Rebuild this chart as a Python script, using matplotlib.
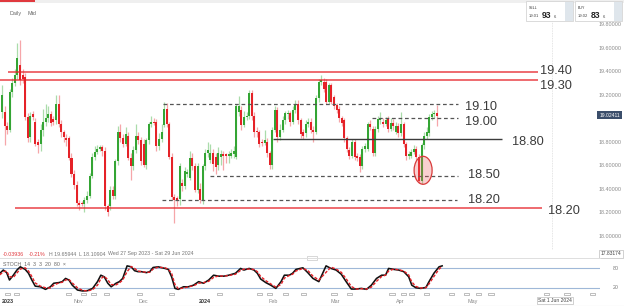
import matplotlib
matplotlib.use("Agg")
import matplotlib.pyplot as plt
from matplotlib.patches import Ellipse, Rectangle

# ---------------- data ----------------
opens = [19.05, 19.05, 18.93, 18.90, 19.22, 19.30, 19.37, 19.45, 19.37, 19.35,
         19.01, 18.84, 19.03, 18.97, 18.80, 18.78, 18.90, 18.97, 19.00, 19.03,
         18.99, 18.98, 19.12, 18.95, 18.88, 18.83, 18.83, 18.66, 18.52, 18.43,
         18.28, 18.28, 18.27, 18.30, 18.34, 18.51, 18.67, 18.71, 18.74, 18.75,
         18.72, 18.25, 18.25, 18.39, 18.34, 18.63, 18.88, 18.83,
         18.78, 18.85, 18.66, 18.59, 18.73, 18.85, 18.81, 18.78, 18.60, 18.81,
         18.95, 18.97, 18.97, 18.76, 18.82, 18.94, 19.08, 18.95, 18.67, 18.33,
         18.32, 18.31, 18.45, 18.42, 18.52, 18.49, 18.66, 18.59, 18.39, 18.40,
         18.30, 18.59, 18.70, 18.64, 18.70, 18.67, 18.60, 18.67, 18.69, 18.69,
         18.68, 18.68, 18.69, 18.67, 19.05, 19.07, 18.94, 19.01, 19.02, 19.21,
         19.02, 18.89, 18.88, 18.80, 18.79, 18.80, 18.70, 18.60, 18.90, 19.07,
         18.84, 18.90, 18.98, 19.03, 19.04, 18.97, 19.07, 19.12, 18.98, 18.88,
         18.87, 18.95, 18.97, 18.90, 18.88, 19.17, 19.31, 19.31, 19.31, 19.14,
         19.28, 19.18, 19.11, 19.08, 19.00, 18.98, 18.83, 18.73, 18.68, 18.80,
         18.68, 18.67, 18.59, 18.74, 18.74, 18.95, 18.91, 18.70, 18.91, 18.98,
         18.97, 18.95,
         18.99, 18.91, 18.96, 18.88, 18.93, 18.87, 18.95, 18.78, 18.68, 18.68,
         18.71, 18.74, 18.67, 18.46, 18.77, 18.85, 18.87, 19.01, 19.03, 19.04]
highs = [19.28, 19.10, 18.97, 19.25, 19.34, 19.42, 19.64, 19.66, 19.42, 19.38,
         19.04, 19.05, 19.06, 19.00, 18.82, 18.95, 19.08, 19.12, 19.10, 19.06,
         19.02, 19.20, 19.20, 18.98, 18.90, 18.86, 18.85, 18.70, 18.56, 18.46,
         18.30, 18.29, 18.33, 18.38, 18.53, 18.70, 18.76, 18.77, 18.77, 18.77,
         18.75, 18.27, 18.42, 18.42, 18.65, 18.93, 18.95, 18.86,
         18.92, 18.88, 18.70, 18.76, 18.95, 18.88, 18.84, 18.82, 18.83, 18.97,
         19.02, 19.00, 18.99, 18.87, 18.95, 19.14, 19.13, 18.97, 18.70, 18.35,
         18.34, 18.62, 18.48, 18.58, 18.57, 18.72, 18.70, 18.62, 18.62, 18.45,
         18.61, 18.74, 18.80, 18.78, 18.74, 18.70, 18.75, 18.73, 18.72, 18.70,
         18.72, 18.74, 18.76, 19.12, 19.19, 19.10, 19.06, 19.05, 19.24, 19.24,
         19.05, 18.92, 18.90, 18.82, 18.90, 18.83, 18.72, 18.92, 19.10, 19.09,
         18.95, 19.02, 19.06, 19.07, 19.06, 19.10, 19.15, 19.15, 19.00, 18.91,
         18.98, 19.00, 19.00, 18.93, 19.20, 19.33, 19.37, 19.34, 19.33, 19.30,
         19.30, 19.20, 19.13, 19.10, 19.02, 19.00, 18.85, 18.75, 18.82, 18.82,
         18.70, 18.69, 18.76, 18.79, 18.97, 18.98, 18.93, 18.93, 19.02, 19.05,
         19.00, 19.01,
         19.02, 19.00, 18.99, 18.97, 18.96, 19.05, 18.97, 18.80, 18.72, 18.74,
         18.77, 18.76, 18.69, 18.79, 18.88, 18.92, 19.03, 19.06, 19.07, 19.11]
lows = [19.00, 18.77, 18.86, 18.88, 19.18, 19.27, 19.33, 19.28, 19.30, 18.98,
        18.80, 18.80, 18.98, 18.76, 18.70, 18.72, 18.85, 18.93, 18.97, 18.93,
        18.94, 18.95, 18.92, 18.84, 18.80, 18.76, 18.64, 18.50, 18.40, 18.25,
        18.22, 18.25, 18.20, 18.28, 18.32, 18.49, 18.64, 18.69, 18.72, 18.68,
        18.22, 18.17, 18.22, 18.31, 18.31, 18.60, 18.80, 18.75,
        18.76, 18.64, 18.47, 18.56, 18.70, 18.78, 18.60, 18.58, 18.57, 18.78,
        18.92, 18.94, 18.72, 18.73, 18.80, 18.92, 18.92, 18.65, 18.30, 18.11,
        18.25, 18.26, 18.38, 18.40, 18.50, 18.47, 18.56, 18.37, 18.36, 18.28,
        18.27, 18.56, 18.67, 18.62, 18.55, 18.52, 18.56, 18.60, 18.56, 18.62,
        18.62, 18.66, 18.66, 18.65, 19.02, 18.90, 18.92, 18.98, 18.99, 18.98,
        18.84, 18.84, 18.75, 18.76, 18.77, 18.67, 18.57, 18.57, 18.88, 18.80,
        18.81, 18.88, 18.95, 18.99, 18.93, 18.95, 19.04, 18.95, 18.83, 18.82,
        18.84, 18.92, 18.87, 18.80, 18.86, 19.14, 19.28, 19.22, 19.12, 19.12,
        19.12, 19.08, 19.04, 18.97, 18.93, 18.80, 18.71, 18.65, 18.66, 18.64,
        18.63, 18.54, 18.57, 18.71, 18.72, 18.90, 18.68, 18.68, 18.88, 18.95,
        18.92, 18.93,
        18.88, 18.89, 18.90, 18.86, 18.84, 18.85, 18.75, 18.64, 18.65, 18.66,
        18.69, 18.64, 18.45, 18.44, 18.74, 18.82, 18.85, 18.98, 19.00, 18.93]
closes = [19.20, 18.93, 18.90, 19.22, 19.30, 19.37, 19.51, 19.32, 19.33, 19.01,
          18.83, 19.02, 19.01, 18.78, 18.77, 18.90, 18.97, 19.00, 19.03, 18.96,
          18.97, 19.12, 18.95, 18.88, 18.84, 18.81, 18.66, 18.52, 18.43, 18.28,
          18.26, 18.27, 18.30, 18.34, 18.51, 18.67, 18.71, 18.74, 18.75, 18.72,
          18.25, 18.20, 18.39, 18.34, 18.63, 18.88, 18.83, 18.78,
          18.86, 18.66, 18.59, 18.73, 18.85, 18.81, 18.63, 18.60, 18.81, 18.95,
          18.97, 18.96, 18.76, 18.82, 18.88, 19.08, 18.95, 18.67, 18.33, 18.30,
          18.29, 18.59, 18.42, 18.55, 18.54, 18.66, 18.59, 18.39, 18.59, 18.30,
          18.59, 18.70, 18.73, 18.70, 18.61, 18.58, 18.70, 18.69, 18.68, 18.68,
          18.69, 18.70, 18.72, 19.10, 19.10, 18.94, 19.01, 19.02, 19.21, 19.02,
          18.88, 18.88, 18.78, 18.79, 18.81, 18.70, 18.60, 18.90, 19.07, 18.84,
          18.90, 18.98, 19.04, 19.04, 18.97, 19.07, 19.12, 18.98, 18.86, 18.85,
          18.95, 18.97, 18.90, 18.88, 19.17, 19.31, 19.32, 19.25, 19.14, 19.28,
          19.14, 19.10, 19.07, 19.00, 18.96, 18.83, 18.74, 18.68, 18.80, 18.67,
          18.66, 18.59, 18.74, 18.76, 18.95, 18.92, 18.70, 18.91, 18.99, 18.99,
          18.95, 18.98,
          18.91, 18.96, 18.93, 18.93, 18.87, 18.95, 18.78, 18.68, 18.69, 18.71,
          18.74, 18.67, 18.46, 18.77, 18.85, 18.88, 19.01, 19.03, 19.04, 19.02]

# Drawn support / resistance levels and their captions
level_prices = [19.39, 19.32, 19.12, 19.00, 18.82, 18.51, 18.30, 18.23]
level_labels = ["19.40", "19.30", "19.10", "19.00", "18.80", "18.50", "18.20", "18.20"]

# Stochastic (14, 3, 3) readings: bar position, %K, %D
stoch_pos = [-0.8, 0.5, 1.8, 2.9, 4.4, 5.8, 7.1, 9.0, 10.3, 11.6,
             12.9, 14.9, 16.9, 18.8, 20.1, 22.1, 23.4, 24.7, 26.0, 27.3,
             29.3, 31.3, 33.2, 35.2, 37.1, 38.4, 39.7, 41.1, 42.4, 44.3,
             45.6, 46.9, 48.6, 50.2, 51.5, 52.8, 54.1, 56.1, 57.4, 58.7,
             60.7, 63.3, 64.6, 65.9, 67.2, 68.5, 70.5, 72.4, 74.4, 76.4,
             78.3, 80.3, 82.2, 84.2, 86.2, 88.1, 90.7, 92.7, 94.0, 96.0,
             97.9, 99.2, 100.5, 102.5, 104.4, 106.4, 108.4, 109.7, 111.6, 112.9,
             114.2, 116.9, 118.8, 120.8, 123.1, 125.9, 127.8, 129.8, 131.8, 133.7,
             135.7, 137.6, 139.6, 141.6, 143.5, 145.5, 147.5, 149.0, 150.2, 152.2,
             154.1, 156.1, 158.0, 159.2, 160.8, 162.7, 164.7, 165.9, 167.8, 169.8,
             171.0]
stoch_k = [65, 75, 67, 44, 59, 75, 85, 77, 65, 44,
           25, 23, 15, 23, 34, 36, 39, 49, 44, 28,
           13, 10, 11, 18, 39, 59, 54, 34, 23, 34,
           39, 49, 88, 85, 73, 70, 70, 67, 70, 83,
           85, 80, 77, 54, 18, 15, 23, 23, 28, 39,
           34, 44, 59, 56, 56, 59, 65, 80, 75, 80,
           75, 65, 47, 36, 28, 18, 39, 59, 59, 65,
           77, 82, 67, 49, 39, 88, 80, 75, 62, 39,
           16, 16, 18, 15, 28, 49, 59, 59, 80, 77,
           75, 70, 54, 28, 20, 18, 21, 39, 65, 85,
           88]
stoch_d = [60, 70, 72, 55, 52, 66, 78, 82, 72, 55,
           35, 25, 20, 19, 28, 35, 37, 44, 46, 35,
           20, 12, 10, 14, 28, 48, 56, 45, 30, 29,
           35, 44, 70, 86, 80, 72, 70, 68, 68, 78,
           84, 82, 78, 65, 30, 17, 19, 23, 26, 34,
           36, 40, 52, 57, 56, 58, 62, 74, 78, 78,
           77, 70, 55, 42, 32, 22, 30, 50, 58, 62,
           72, 80, 74, 56, 44, 68, 84, 78, 68, 48,
           24, 16, 17, 16, 22, 40, 55, 59, 72, 78,
           76, 72, 60, 38, 24, 19, 20, 32, 55, 78,
           86]

month_labels = ["2023", "Nov", "Dec", "2024", "Feb", "Mar", "Apr", "May"]
month_pos = [2.3, 29.5, 54.8, 78.9, 105.3, 129.4, 154.6, 183.0]

price_ticks = [19.8, 19.6, 19.4, 19.2, 18.8, 18.6, 18.4, 18.2, 18.0]
last_price = 19.02411
circled_bar = 163
event_pos = [2.0, 5.5, 26.0, 31.5, 35.5, 40.5, 53.5, 66.0, 84.5, 100.0,
             104.0, 110.0, 117.0, 129.0, 135.0, 151.5, 156.0, 159.0, 165.0, 174.5,
             180.5, 185.0, 190.0, 211.5, 219.5, 229.5]

# ---------------- layout helpers ----------------
W, H = 624, 306
BAR_PX = 2.574
X0_PX = 2.0


def fx(px):
    return px / W


def fy(py):
    return 1 - py / H


def bx(px):
    return (px - X0_PX) / BAR_PX


GREEN = "#34a534"
RED = "#e52228"
GREEN_W = "#aadcaa"
RED_W = "#f6a6a9"
TXT = "#3b3b3b"
GREY = "#8a8a8a"
FONT = ["Liberation Sans", "DejaVu Sans"]
plt.rcParams["font.family"] = FONT

fig = plt.figure(figsize=(W / 100, H / 100), dpi=100)
fig.patch.set_facecolor("white")

# ---------------- price panel ----------------
ax = fig.add_axes([0, fy(250), fx(596), (250 - 5) / H])
ax.set_xlim(bx(0), bx(596))
ax.set_ylim(19.8 - (250 - 24) * 0.00851, 19.8 + (24 - 5) * 0.00851)
for s in ax.spines.values():
    s.set_visible(False)
ax.yaxis.tick_right()
ax.set_yticks(price_ticks)
ax.set_yticklabels([f"{p:.5f}" for p in price_ticks], fontsize=3.9, color=GREY)
ax.tick_params(axis="y", length=0, pad=2)
ax.set_xticks([])

# crosshair (vertical)
ax.axvline(bx(552), color="#dcdcdc", lw=0.6, ls=(0, (1, 1)))

n = len(closes)
for i in range(n):
    o, h, l, c = opens[i], highs[i], lows[i], closes[i]
    up = c >= o
    ax.vlines(i, l, h, color=GREEN_W if up else RED_W, lw=0.9, zorder=2)
    bot = min(o, c)
    hgt = max(abs(c - o), 0.007)
    ax.bar(i, hgt, bottom=bot, width=0.78, color=GREEN if up else RED,
           linewidth=0, zorder=3)

# levels: first/last pixel column, colour, dash, width, caption position
level_style = [
    (8, 538, RED, "-", 1.1, 540, 71),
    (0, 538, RED, "-", 1.1, 540, 86),
    (163, 458, "#555555", (0, (3, 2.2)), 0.9, 465, 107),
    (372, 458, "#555555", (0, (3, 2.2)), 0.9, 465, 122),
    (273, 502, "#3c3c3c", "-", 1.0, 512, 142),
    (210, 458, "#555555", (0, (3, 2.2)), 0.9, 468, 175),
    (162, 457, "#555555", (0, (3, 2.2)), 0.9, 468, 200),
    (15, 542, RED, "-", 1.1, 548, 211),
]
for price, lab, (x0, x1, col, ls, lw, tx, ty) in zip(level_prices, level_labels, level_style):
    ax.hlines(price, bx(x0), bx(x1), colors=col, linestyles=ls, lw=lw, zorder=4,
              alpha=0.85 if col == RED else 1.0)
    fig.text(fx(tx), fy(ty), lab, fontsize=9.2, color=TXT, va="center", ha="left")

# circled low
ell = Ellipse((circled_bar + 0.6, 18.555), width=18 / BAR_PX, height=0.238,
              facecolor=(0.93, 0.35, 0.35, 0.28), edgecolor="#d83a3a", lw=0.9, zorder=5)
ax.add_patch(ell)

# current price marker
fig.patches.append(Rectangle((fx(597), fy(119.5)), fx(25), 8 / H, transform=fig.transFigure,
                             facecolor="#3b4e6b", edgecolor="none"))
fig.text(fx(609.5), fy(115.5), f"{last_price:.5f}", fontsize=3.6, color="white",
         ha="center", va="center")

# ---------------- header ----------------
fig.patches.append(Rectangle((0, fy(3)), 1, 3 / H, transform=fig.transFigure,
                             facecolor="#efefef", edgecolor="none"))
fig.patches.append(Rectangle((0, fy(2)), fx(35), 2 / H, transform=fig.transFigure,
                             facecolor="#e0393e", edgecolor="none"))
fig.text(fx(10), fy(13.5), "Daily", fontsize=3.9, color="#666666", va="center")
fig.text(fx(28), fy(13.5), "Mid", fontsize=3.9, color="#666666", va="center")

for (x0, lab, big, pre) in [(526, "SELL", "93", "19.01"), (575, "BUY", "83", "19.02")]:
    fig.patches.append(Rectangle((fx(x0), fy(21)), fx(47), 20 / H, transform=fig.transFigure,
                                 facecolor="white", edgecolor="#d4d4d4", lw=0.6))
    fig.patches.append(Rectangle((fx(x0 + 39), fy(20.5)), fx(7.5), 19 / H,
                                 transform=fig.transFigure, facecolor="#dfe6ec",
                                 edgecolor="none"))
    fig.text(fx(x0 + 3), fy(8), lab, fontsize=2.6, color="#333333", va="center")
    fig.text(fx(x0 + 3), fy(16), pre, fontsize=3.0, color="#444444", va="center")
    fig.text(fx(x0 + 16), fy(15.5), big, fontsize=6.2, color="#222222", va="center",
             fontweight="bold")
    fig.text(fx(x0 + 28), fy(16.5), "6", fontsize=3.0, color="#444444", va="center")

# ---------------- info line ----------------
fig.text(fx(3), fy(254), "-0.03936", fontsize=3.8, color="#e0393e", va="center")
fig.text(fx(29), fy(254), "-0.21%", fontsize=3.8, color="#e0393e", va="center")
fig.text(fx(49), fy(254), "H 19.65944", fontsize=3.8, color="#777777", va="center")
fig.text(fx(79), fy(254), "L 18.10904", fontsize=3.8, color="#777777", va="center")
fig.text(fx(108), fy(254), "Wed 27 Sep 2023 - Sat 29 Jun 2024", fontsize=3.8,
         color="#777777", va="center")

# crosshair price box
fig.patches.append(Rectangle((fx(599), fy(257.5)), fx(24), 8 / H, transform=fig.transFigure,
                             facecolor="white", edgecolor="#bdbdbd", lw=0.5))
fig.text(fx(611), fy(253.5), "17.83174", fontsize=3.6, color="#444444", ha="center",
         va="center")

# separator and handle
fig.add_artist(plt.Line2D([0, fx(600)], [fy(258), fy(258)], transform=fig.transFigure,
                          color="#dedede", lw=0.7))
fig.patches.append(Rectangle((fx(307), fy(260)), fx(10), 4 / H, transform=fig.transFigure,
                             facecolor="white", edgecolor="#c8c8c8", lw=0.5))

# ---------------- stochastic panel ----------------
sx = fig.add_axes([0, fy(296), fx(600), (296 - 259) / H])
sx.set_xlim(bx(0), bx(600))
sx.set_ylim(-5.6, 109.3)
for s in sx.spines.values():
    s.set_visible(False)
sx.axhline(80, color="#9fb8d8", lw=0.8)
sx.axhline(20, color="#9fb8d8", lw=0.8)
sx.plot(stoch_pos, stoch_k, color="#111111", lw=1.15, zorder=4)
sx.plot(stoch_pos, stoch_d, color=RED, lw=1.0, ls=(0, (2.2, 1.2)), zorder=5)
sx.set_yticks([])
sx.set_xticks(month_pos)
sx.set_xticklabels(month_labels, fontsize=3.9, color=GREY)
for lbl in sx.get_xticklabels():
    if lbl.get_text() in ("2023", "2024"):
        lbl.set_color("#333333")
        lbl.set_fontweight("bold")
sx.tick_params(axis="x", length=0, pad=2.0)
for p in event_pos:
    sx.add_patch(Rectangle((p - 1.0, -1.5), 2.0, 6.5, facecolor="white",
                           edgecolor="#9a9a9a", lw=0.45, zorder=6, clip_on=False))
fig.text(fx(3), fy(265), "STOCH  14  3  3  20  80  \u00d7", fontsize=3.8, color="#666666",
         va="center")
fig.text(fx(616), fy(268), "80", fontsize=3.8, color="#777777", va="center", ha="center")
fig.text(fx(616), fy(287.5), "20", fontsize=3.8, color="#777777", va="center", ha="center")
fig.text(fx(555), fy(300.5), "Sat 1 Jun 2024", fontsize=3.6, color="#444444", ha="center",
         va="center", bbox=dict(boxstyle="square,pad=0.25", fc="white", ec="#bdbdbd", lw=0.5))
fig.add_artist(plt.Line2D([0, 1], [fy(305.5), fy(305.5)], transform=fig.transFigure,
                          color="#d8d8d8", lw=0.8))

fig.savefig("out.png", dpi=100, facecolor="white")
